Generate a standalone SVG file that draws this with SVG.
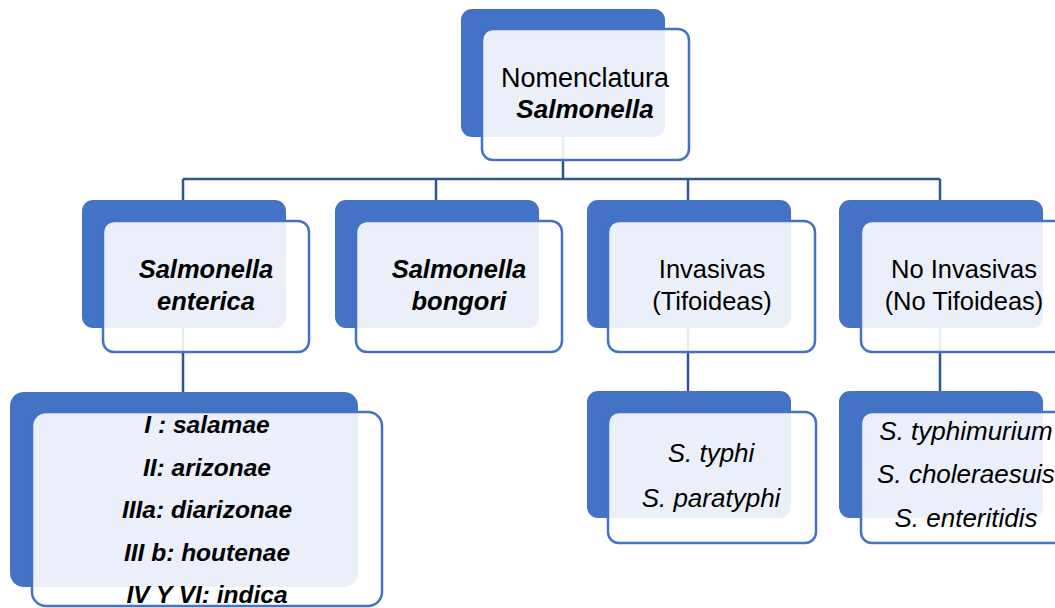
<svg xmlns="http://www.w3.org/2000/svg" width="1055" height="608" viewBox="0 0 1055 608">
<style>
.back{fill:#4472C4}
.front{fill:#FFFFFF;fill-opacity:0.89;stroke:#4472C4;stroke-width:2.5}
.ln{stroke:#2F5597;stroke-width:2.5;fill:none}
text{font-family:"Liberation Sans",Arial,sans-serif;fill:#000;text-anchor:middle}
.t{font-size:25.5px}
.bi{font-size:25.5px;font-weight:bold;font-style:italic}
.bi2{font-size:24.5px;font-weight:bold;font-style:italic}
.it{font-size:26px;font-style:italic}
</style>
<rect width="1055" height="608" fill="#FFFFFF"/>
<g id="connectors" class="ln">
<path d="M563 137V179M183 179H940M183 179V200M436 179V200M688 179V200M940 179V200"/>
<path d="M183 328V392M688 328V391M940 328V391"/>
</g>
<g id="n-root">
<rect class="back" x="461" y="9" width="204" height="128" rx="11"/>
<rect class="front" x="482" y="29" width="207" height="131" rx="11"/>
<text class="t" x="585" y="87" style="font-size:27px">Nomenclatura</text>
<text class="bi" x="585" y="118" style="font-size:26px">Salmonella</text>
</g>
<g id="n-enterica">
<rect class="back" x="82" y="200" width="204" height="128" rx="11"/>
<rect class="front" x="103" y="221" width="206" height="131" rx="11"/>
<text class="bi" x="206" y="278">Salmonella</text>
<text class="bi" x="206" y="310">enterica</text>
</g>
<g id="n-bongori">
<rect class="back" x="335" y="200" width="204" height="128" rx="11"/>
<rect class="front" x="356" y="221" width="206" height="131" rx="11"/>
<text class="bi" x="459" y="278">Salmonella</text>
<text class="bi" x="459" y="310">bongori</text>
</g>
<g id="n-invasivas">
<rect class="back" x="587" y="200" width="204" height="128" rx="11"/>
<rect class="front" x="608" y="221" width="207" height="131" rx="11"/>
<text class="t" x="712" y="278">Invasivas</text>
<text class="t" x="712" y="310">(Tifoideas)</text>
</g>
<g id="n-noinvasivas">
<rect class="back" x="839" y="200" width="204" height="128" rx="11"/>
<rect class="front" x="861" y="221" width="207" height="131" rx="11"/>
<text class="t" x="964" y="278">No Invasivas</text>
<text class="t" x="964" y="310">(No Tifoideas)</text>
</g>
<g id="n-subspecies">
<rect class="back" x="10" y="392" width="348" height="195" rx="14"/>
<rect class="front" x="32" y="412" width="350" height="194" rx="14"/>
<text class="bi2" x="207" y="433">I : salamae</text>
<text class="bi2" x="207" y="476">II: arizonae</text>
<text class="bi2" x="207" y="518">IIIa: diarizonae</text>
<text class="bi2" x="207" y="561">III b: houtenae</text>
<text class="bi2" x="207" y="603">IV Y VI: indica</text>
</g>
<g id="n-typhi">
<rect class="back" x="587" y="391" width="204" height="127" rx="11"/>
<rect class="front" x="608" y="412" width="208" height="131" rx="11"/>
<text class="it" x="711" y="462">S. typhi</text>
<text class="it" x="711" y="507">S. paratyphi</text>
</g>
<g id="n-typhimurium">
<rect class="back" x="839" y="391" width="204" height="127" rx="11"/>
<rect class="front" x="861" y="412" width="208" height="131" rx="11"/>
<text class="it" x="966" y="440">S. typhimurium</text>
<text class="it" x="966" y="483">S. choleraesuis</text>
<text class="it" x="966" y="527">S. enteritidis</text>
</g>
</svg>
